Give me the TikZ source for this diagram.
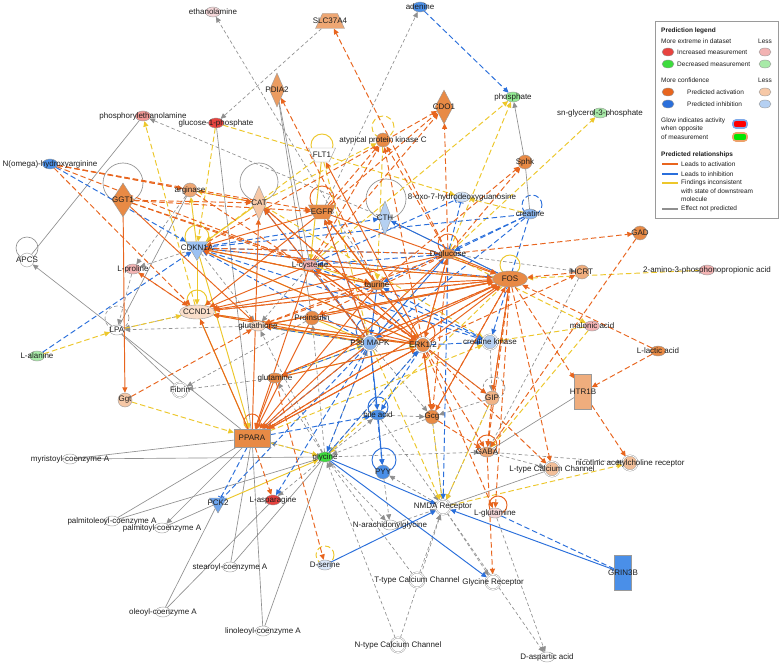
\documentclass[tikz,border=0pt]{standalone}
\usepackage{fontspec}
\setmainfont{Liberation Sans}
\usetikzlibrary{shapes.geometric,arrows.meta}
\definecolor{mred}{HTML}{E8433F}
\definecolor{mpink}{HTML}{F2B3B3}
\definecolor{mpinklt}{HTML}{F6D8DA}
\definecolor{mgreen}{HTML}{3DDC3D}
\definecolor{mgreenlt}{HTML}{A8EAA8}
\definecolor{porange}{HTML}{E88A45}
\definecolor{ppeach}{HTML}{F6C8A6}
\definecolor{pblue}{HTML}{4A8FE8}
\definecolor{pbluelt}{HTML}{B5D0F2}
\definecolor{actc}{HTML}{E8651E}
\definecolor{inhc}{HTML}{2A6FDB}
\definecolor{yelc}{HTML}{EDC72B}
\definecolor{npc}{HTML}{8F8F8F}
\definecolor{nodec}{HTML}{9A9A9A}
\definecolor{labc}{HTML}{1E1E1E}
\newcommand\labf{\fontsize{8}{9.6}\selectfont}
\newcommand\legf{\fontsize{6.5}{7.8}\selectfont}
\pgfdeclarelayer{edges}
\pgfsetlayers{edges,main}
\tikzset{
  base/.style={draw=nodec, line width=0.4pt, inner sep=0.5pt},
  chem/.style={base, ellipse, minimum width=15pt, minimum height=10pt},
  other/.style={base, circle, minimum size=14pt},
  cplx/.style={base, circle, minimum size=15pt, double=white, double distance=0.9pt},
  enzy/.style={base, diamond, minimum width=15pt, minimum height=34pt},
  trf/.style={base, ellipse, minimum width=35pt, minimum height=16pt},
  nrec/.style={base, rectangle, minimum width=36pt, minimum height=18pt},
  chan/.style={base, rectangle, minimum width=17pt, minimum height=35pt},
  tpt/.style={base, inner sep=2pt, trapezium, trapezium angle=65, minimum width=20pt, minimum height=15pt},
  tmr/.style={base, inner sep=2pt, trapezium, trapezium angle=65, shape border rotate=180, minimum width=20pt, minimum height=14pt},
  kin/.style={base, inner sep=1pt, regular polygon, regular polygon sides=3, shape border rotate=180, minimum size=20pt},
  every label/.style={font=\labf, text=labc, inner sep=0pt},
  arrowtip/.style={-{Triangle[length=5.5pt,width=5pt]}},
  inhbar/.style={-{Bar[width=6pt,line width=0.9pt]}},
  lnk/.style={line width=0.95pt},
  dsh/.style={dash pattern=on 5.5pt off 3pt},
  actl/.style={lnk, draw=actc},
  inhl/.style={lnk, draw=inhc},
  yell/.style={lnk, draw=yelc},
  npl/.style={line width=0.65pt, draw=npc},
  npdl/.style={npl, dash pattern=on 3.5pt off 2.5pt},
  act/.style={actl, arrowtip}, actd/.style={act, dsh},
  inh/.style={inhl, arrowtip}, inhd/.style={inh, dsh},
  yel/.style={yell, arrowtip}, yeld/.style={yel, dsh},
  np/.style={npl, arrowtip}, npd/.style={npdl, arrowtip},
  legtext/.style={anchor=west, font=\legf, text=labc, inner sep=0pt},
  legdot/.style={base, ellipse, minimum width=12pt, minimum height=8pt},
}
\begin{document}
\begin{tikzpicture}[x=1pt,y=-1pt]
\useasboundingbox (0,0) rectangle (779,663);

% molecules
\node[chem, fill=mpinklt, label={center:{ethanolamine}}] (eth) at (213,12) {};
\node[tpt, fill=porange!75!white, label={center:{SLC37A4}}] (slc) at (330,21) {};
\node[chem, fill=pblue, label={center:{adenine}}] (ade) at (420,7) {};
\node[chem, fill=mgreen!55!white, label={center:{phosphate}}] (phos) at (513,97) {};
\node[chem, fill=mgreenlt, label={center:{sn-glycerol-3-phosphate}}] (sng) at (600,113) {};
\node[enzy, fill=porange!85!white, label={center:{PDIA2}}] (pdia) at (277,90) {};
\node[enzy, fill=porange, minimum width=18pt, label={center:{CDO1}}] (cdo) at (444,107) {};
\node[chem, fill=mred!55!white, label={center:{phosphorylethanolamine}}] (pea) at (143,116) {};
\node[chem, fill=mred, label={center:{glucose-1-phosphate}}] (g1p) at (216,123) {};
\node[other, fill=porange, label={center:{atypical protein kinase C}}] (apkc) at (383,140) {};
\node[tmr, fill=white, label={center:{FLT1}}] (flt) at (322,155) {};
\node[other, fill=porange, label={center:{Sphk}}] (sphk) at (525,162) {};
\node[chem, fill=pblue, label={center:{N(omega)-hydroxyarginine}}] (noh) at (50,164) {};
\node[enzy, fill=porange, minimum width=22pt, label={center:{GGT1}}] (ggt1) at (123,200) {};
\node[other, fill=porange!75!white, label={center:{arginase}}] (arg) at (190,190) {};
\node[enzy, fill=ppeach, label={center:{CAT}}] (cat) at (259,203) {};
\node[tmr, fill=porange, label={center:{EGFR}}] (egfr) at (322,212) {};
\node[enzy, fill=pbluelt, minimum width=13pt, label={center:{CTH}}] (cth) at (385,218) {};
\node[chem, fill=pbluelt!60!white, label={center:{8-oxo-7-hydrodeoxyguanosine}}] (oxo) at (462,197) {};
\node[chem, fill=pblue!65!white, label={center:{creatine}}] (crt) at (530,214) {};
\node[kin, fill=pblue!55!white, minimum size=25pt, label={center:{CDKN1A}}] (cdkn) at (197,248) {};
\node[chem, fill=mpink, label={center:{L-cysteine}}] (lcys) at (310,265) {};
\node[chem, fill=porange, label={center:{D-glucose}}] (dglc) at (448,254) {};
\node[trf, fill=porange, label={center:{FOS}}] (fos) at (510,279) {};
\node[other, fill=porange, label={center:{GAD}}] (gad) at (640,233) {};
\node[other, fill=porange!70!white, label={center:{HCRT}}] (hcrt) at (582,272) {};
\node[chem, fill=mpink, label={center:{2-amino-3-phosphonopropionic acid}}] (amino) at (707,270) {};
\node[other, fill=white, label={center:{APCS}}] (apcs) at (27,260) {};
\node[chem, fill=mpink, label={center:{L-proline}}] (lpro) at (133,269) {};
\node[chem, fill=porange, label={center:{taurine}}] (tau) at (377,285) {};
\node[trf, fill=ppeach!60!white, minimum height=14pt, label={center:{CCND1}}] (ccnd) at (197,312) {};
\node[chem, fill=white, label={center:{LPA}}] (lpa) at (117,330) {};
\node[chem, fill=mgreenlt, label={center:{L-alanine}}] (lala) at (37,356) {};
\node[chem, fill=ppeach!60!white, label={center:{glutathione}}] (glut) at (258,326) {};
\node[other, fill=porange, label={center:{Proinsulin}}] (proi) at (312,318) {};
\node[cplx, fill=pblue!65!white, label={center:{P38 MAPK}}] (p38) at (370,343) {};
\node[cplx, fill=porange, label={center:{ERK1/2}}] (erk) at (423,345) {};
\node[cplx, fill=pbluelt, label={center:{creatine kinase}}] (ck) at (490,342) {};
\node[chem, fill=mpink, label={center:{malonic acid}}] (malo) at (592,326) {};
\node[chem, fill=porange, label={center:{L-lactic acid}}] (llac) at (658,351) {};
\node[cplx, fill=white, label={center:{Fibrin}}] (fib) at (180,390) {};
\node[other, fill=ppeach, label={center:{Ggt}}] (ggt) at (125,400) {};
\node[chem, fill=porange, label={center:{glutamine}}] (gln) at (275,378) {};
\node[other, fill=porange!65!white, label={center:{GIP}}] (gip) at (492,398) {};
\node[chem, fill=pblue, label={center:{bile acid}}] (bile) at (378,415) {};
\node[other, fill=porange, label={center:{Gcg}}] (gcg) at (432,417) {};
\node[chan, fill=porange!70!white, label={center:{HTR1B}}] (htr) at (583,392) {};
\node[nrec, fill=porange, label={center:{PPARA}}] (ppara) at (252,438) {};
\node[chem, fill=porange!75!white, label={center:{GABA}}] (gaba) at (487,452) {};
\node[cplx, fill=porange!55!white, label={center:{L-type Calcium Channel}}] (ltype) at (552,469) {};
\node[cplx, fill=porange!55!white, label={center:{nicotinic acetylcholine receptor}}] (nach) at (630,463) {};
\node[chem, fill=mgreen, label={center:{glycine}}] (gly) at (325,457) {};
\node[other, fill=pblue, label={center:{PYY}}] (pyy) at (383,472) {};
\node[chem, fill=white, label={center:{myristoyl-coenzyme A}}] (myr) at (70,459) {};
\node[kin, fill=pblue!80!white, label={center:{PCK2}}] (pck) at (218,503) {};
\node[chem, fill=mred, label={center:{L-asparagine}}] (lasn) at (273,500) {};
\node[cplx, fill=white, label={center:{NMDA Receptor}}] (nmda) at (443,507) {};
\node[chem, fill=mpinklt, label={center:{L-glutamine}}] (lglu) at (495,513) {};
\node[chem, fill=white, label={center:{N-arachidonylglycine}}] (narach) at (390,525) {};
\node[chem, fill=white, label={center:{palmitoleoyl-coenzyme A}}] (palo) at (112,521) {};
\node[chem, fill=white, label={center:{palmitoyl-coenzyme A}}] (palm) at (162,528) {};
\node[chem, fill=pbluelt!50!white, label={center:{D-serine}}] (dser) at (325,565) {};
\node[chem, fill=white, label={center:{stearoyl-coenzyme A}}] (stea) at (230,567) {};
\node[cplx, fill=white, label={center:{T-type Calcium Channel}}] (ttype) at (417,580) {};
\node[cplx, fill=white, label={center:{Glycine Receptor}}] (glyr) at (493,582) {};
\node[chan, fill=pblue, label={center:{GRIN3B}}] (grin) at (623,573) {};
\node[chem, fill=white, label={center:{oleoyl-coenzyme A}}] (ole) at (163,612) {};
\node[chem, fill=white, label={center:{linoleoyl-coenzyme A}}] (lino) at (263,631) {};
\node[cplx, fill=white, label={center:{N-type Calcium Channel}}] (ntype) at (398,645) {};
\node[chem, fill=white, label={center:{D-aspartic acid}}] (dasp) at (547,657) {};

\begin{pgfonlayer}{edges}
\fill[white] (0,0) rectangle (779,663);

% self loops
\draw[npl] ([yshift=17pt]ggt1.center) circle (20pt);
\draw[npl] ([yshift=21pt]cat.center) circle (19pt);
\draw[npl] ([xshift=1pt,yshift=19pt]cth.center) circle (20pt);
\draw[npl] ([yshift=12pt]apcs.center) circle (11pt);
\draw[npdl] ([yshift=12pt]lpa.center) circle (12pt);
\draw[npdl] ([xshift=2pt,yshift=10pt]gip.center) circle (11pt);
\draw[actl] ([yshift=14pt]egfr.center) circle (12pt);
\draw[actl] ([yshift=10pt]dglc.center) circle (10pt);
\draw[actl] ([yshift=12pt]erk.center) circle (12pt);
\draw[actl] ([yshift=7pt]gaba.center) circle (10pt);
\draw[actl] ([xshift=3pt,yshift=8pt]lglu.center) circle (9pt);
\draw[actl] ([yshift=16pt]ppara.center) circle (8pt);
\draw[yell] ([yshift=10pt]flt.center) circle (11pt);
\draw[yell, dsh] ([yshift=13pt]apkc.center) circle (11pt);
\draw[yell] ([yshift=11pt]cdkn.center) circle (12pt);
\draw[yell] ([yshift=12pt]ccnd.center) circle (10pt);
\draw[yell] ([yshift=14pt]fos.center) circle (10pt);
\draw[yell, dsh] ([yshift=10pt]dser.center) circle (9pt);
\draw[inhl, dsh] ([xshift=2pt,yshift=9pt]crt.center) circle (10pt);
\draw[inhl] ([xshift=-2pt,yshift=13pt]p38.center) circle (12pt);
\draw[inhl] ([yshift=8pt]bile.center) circle (10pt);
\draw[inhl] ([xshift=1pt,yshift=12pt]pyy.center) circle (12pt);

% not predicted
\draw[npl] (ppara) -- (g1p);
\draw[npl] (apcs) -- (pea);
\draw[np] (lpa) -- (apcs);
\draw[npl] (lpa) -- (fib);
\draw[npl] (lpa) -- (ppara);
\draw[npl] (myr) -- (ppara);
\draw[npl] (myr) -- (gly);
\draw[npl] (palo) -- (ppara);
\draw[npl] (palo) -- (gly);
\draw[np] (ppara) -- (palm);
\draw[npl] (palm) -- (pck);
\draw[npl] (stea) -- (ppara);
\draw[npl] (stea) -- (gly);
\draw[npl] (ole) -- (pck);
\draw[npl] (ole) -- (lasn);
\draw[npl] (lino) -- (ppara);
\draw[npl] (lino) -- (gly);
\draw[np] (sphk) -- (phos);
\draw[npl] (sphk) -- (crt);
\draw[npl] (pdia) -- (lcys);
\draw[npl] (pdia) -- (proi);
\draw[npl] (htr) -- (gaba);
\draw[npl] (ltype) -- (nmda);
\draw[npl] (arg) -- (lpa);
\draw[npl] (cth) -- (fos);
\draw[npd] (tau) -- (eth);
\draw[npd] (slc) -- (g1p);
\draw[npd] (cth) -- (pea);
\draw[npd] (egfr) -- (ade);
\draw[npd] (lpro) -- (lpa);
\draw[npd] (cdkn) -- (lpro);
\draw[npd] (arg) -- (lpro);
\draw[npd] (glut) -- (lpa);
\draw[npd] (ccnd) -- (lpa);
\draw[npd] (gln) -- (fib);
\draw[npd] (proi) -- (fib);
\draw[npd] (gly) -- (narach);
\draw[npd] (ttype) -- (nmda);
\draw[npd] (ntype) -- (nmda);
\draw[npd] (ttype) -- (gly);
\draw[npd] (ntype) -- (gly);
\draw[npd] (nmda) -- (pyy);
\draw[npd] (lglu) -- (dasp);
\draw[npd] (nmda) -- (dasp);
\draw[npd] (gaba) -- (ltype);
\draw[npd] (gaba) -- (nach);
\draw[npd] (dglc) -- (hcrt);
\draw[npd] (hcrt) -- (gaba);
\draw[npd] (nmda) -- (glyr);
\draw[npd] (gly) -- (gaba);
\draw[npd] (gcg) -- (gly);
\draw[npd] (gcg) -- (nmda);
\draw[npd] (p38) -- (gcg);
\draw[npd] (erk) -- (gcg);
\draw[npd] (gly) -- (ppara);
\draw[npd] (gly) -- (gln);
\draw[npd] (gly) -- (p38);
\draw[npd] (narach) -- (nmda);
\draw[npd] (pyy) -- (narach);
\draw[npd] (cdkn) -- (glut);
\draw[npd] (lcys) -- (glut);
\draw[npd] (gly) -- (bile);
\draw[npd] (gip) -- (nmda);
\draw[npd] (ck) -- (gip);
\draw[npd] (erk) -- (gip);
\draw[npd] (gly) -- (lasn);
\draw[npd] (bile) -- (nmda);
\draw[npd] (gly) -- (erk);
\draw[npd] (gly) -- (proi);
\draw[npd] (gly) -- (glut);
\draw[npd] (bile) -- (gcg);
\draw[npd] (gip) -- (gcg);

% inconsistent
\draw[yeld] (ccnd) -- (pea);
\draw[yeld] (g1p) -- (oxo);
\draw[yeld] (lala) -- (lpa);
\draw[yeld] (lpa) -- (ccnd);
\draw[yeld] (ggt) -- (ppara);
\draw[yeld] (dglc) -- (sng);
\draw[yeld] (dglc) -- (phos);
\draw[yeld] (lcys) -- (phos);
\draw[yeld] (crt) -- (oxo);
\draw[yeld] (amino) -- (fos);
\draw[yeld] (malo) -- (ck);
\draw[yeld] (malo) -- (gaba);
\draw[yeld] (nmda) -- (nach);
\draw[yeld] (dglc) -- (malo);
\draw[yeld] (cat) -- (apkc);
\draw[yeld] (cat) -- (arg);
\draw[yeld] (ppara) -- (gly);
\draw[yeld] (erk) -- (nmda);
\draw[yeld] (p38) -- (nmda);
\draw[yeld] (glut) -- (erk);
\draw[yeld] (gln) -- (erk);
\draw[yeld] (gip) -- (nmda);
\draw[yeld] (fos) -- (lcys);
\draw[yeld] (ccnd) -- (erk);
\draw[yeld] (flt) -- (cdkn);
\draw[yeld] (ppara) -- (ck);
\draw[yeld] (glut) -- (fos);
\draw[yeld] (gln) -- (p38);
\draw[yeld] (p38) -- (ccnd);
\draw[yeld] (fos) -- (gly);
\draw[yeld] (apkc) -- (tau);
\draw[yeld] (g1p) -- (cdkn);
\draw[yeld] (cat) -- (ck);
\draw[yeld] (flt) -- (p38);
\draw[yel] (cdkn) -- (arg);
\draw[yel] (glut) -- (p38);
\draw[yel] (flt) -- (lcys);
\draw[yel] (pck) -- (gly);
\draw[yel] (cdkn) -- (ccnd);
\draw[yel] (cdkn) -- (ppara);
\draw[yel] (cdkn) -- (erk);
\draw[yel] (egfr) -- (erk);
\draw[yel] (cat) -- (cdkn);
\draw[yel] (ccnd) -- (ppara);
\draw[yel] (lcys) -- (tau);
\draw[yel] (cdkn) -- (tau);
\draw[yel] (proi) -- (p38);

% inhibition
\draw[inhd] (ade) -- (phos);
\draw[inhd] (noh) -- (cdkn);
\draw[inhd] (lala) -- (cdkn);
\draw[inhd, inhbar] (ppara) -- (pck);
\draw[inhd, inhbar] (p38) -- (pck);
\draw[inhd, inhbar] (lglu) -- (grin);
\draw[inhd, inhbar] (lcys) -- (oxo);
\draw[inhd, inhbar] (dglc) -- (oxo);
\draw[inhd] (crt) -- (dglc);
\draw[inhd] (crt) -- (tau);
\draw[inhd] (crt) -- (ck);
\draw[inhd] (erk) -- (ck);
\draw[inhd] (dglc) -- (nmda);
\draw[inhd] (cdkn) -- (dglc);
\draw[inhd] (cdkn) -- (fos);
\draw[inhd] (cdkn) -- (cth);
\draw[inhd] (cdkn) -- (ck);
\draw[inhd] (p38) -- (cdkn);
\draw[inhd] (p38) -- (lcys);
\draw[inhd] (p38) -- (gln);
\draw[inhd] (p38) -- (ppara);
\draw[inhd] (p38) -- (gly);
\draw[inhd] (ppara) -- (bile);
\draw[inhd] (p38) -- (glut);
\draw[inhd] (p38) -- (pyy);
\draw[inhd] (dglc) -- (lcys);
\draw[inhd] (crt) -- (p38);
\draw[inhd] (p38) -- (egfr);
\draw[inhd] (p38) -- (cat);
\draw[inhd] (ck) -- (tau);
\draw[inhd] (crt) -- (cdkn);
\draw[inhd] (p38) -- (lasn);
\draw[inhd] (erk) -- (bile);
\draw[inhd] (lcys) -- (ck);
\draw[inhd] (gly) -- (erk);
\draw[inh] (gly) -- (nmda);
\draw[inh] (gly) -- (glyr);
\draw[inh] (dser) -- (nmda);
\draw[inh] (grin) -- (nmda);
\draw[inh] (tau) -- (p38);
\draw[inh] (p38) -- (bile);
\draw[inh] (fos) -- (cth);
\draw[inh] (bile) -- (pyy);
\draw[inh] (p38) -- (dglc);

% activation
\draw[actd] (noh) -- (cat);
\draw[actd] (noh) -- (arg);
\draw[actd] (noh) -- (ccnd);
\draw[actd] (noh) -- (egfr);
\draw[actd] (ggt1) -- (cat);
\draw[actd] (ggt1) -- (lcys);
\draw[actd] (lpro) -- (ccnd);
\draw[actd] (ccnd) -- (lpro);
\draw[actd] (ggt) -- (glut);
\draw[actd] (ppara) -- (lasn);
\draw[actd] (gln) -- (dser);
\draw[actd] (gaba) -- (glyr);
\draw[actd] (fos) -- (ltype);
\draw[actd] (htr) -- (nach);
\draw[actd] (fos) -- (htr);
\draw[actd] (llac) -- (htr);
\draw[actd] (llac) -- (fos);
\draw[actd] (hcrt) -- (fos);
\draw[actd] (dglc) -- (gad);
\draw[actd] (gad) -- (gaba);
\draw[actd] (dglc) -- (sphk);
\draw[actd] (tau) -- (sphk);
\draw[actd] (dglc) -- (cdo);
\draw[actd] (cdkn) -- (cdo);
\draw[actd] (lcys) -- (cdo);
\draw[actd] (egfr) -- (cdo);
\draw[actd] (tau) -- (pdia);
\draw[actd] (dglc) -- (slc);
\draw[actd] (lcys) -- (apkc);
\draw[actd] (egfr) -- (apkc);
\draw[actd] (dglc) -- (apkc);
\draw[actd] (erk) -- (apkc);
\draw[actd] (erk) -- (hcrt);
\draw[actd] (fos) -- (gaba);
\draw[actd] (erk) -- (gaba);
\draw[actd] (erk) -- (ltype);
\draw[actd] (fos) -- (glut);
\draw[actd] (fos) -- (ppara);
\draw[actd] (dglc) -- (erk);
\draw[actd] (fos) -- (gcg);
\draw[actd] (fos) -- (gln);
\draw[actd] (tau) -- (glut);
\draw[actd] (dglc) -- (glut);
\draw[actd] (erk) -- (lglu);
\draw[actd] (gcg) -- (gaba);
\draw[actd] (gip) -- (gaba);
\draw[actd] (dglc) -- (proi);
\draw[actd] (fos) -- (ccnd);
\draw[actd] (dglc) -- (cdkn);
\draw[actd] (fos) -- (cdkn);
\draw[actd] (cdkn) -- (tau);
\draw[actd] (ggt1) -- (egfr);
\draw[actd] (arg) -- (erk);
\draw[actd] (noh) -- (lcys);
\draw[actd] (cat) -- (erk);
\draw[actd] (ggt1) -- (tau);
\draw[actd] (dglc) -- (gcg);
\draw[actd] (fos) -- (gip);
\draw[actd] (fos) -- (lglu);
\draw[act] (ggt1) -- (ggt);
\draw[act] (ggt1) -- (glut);
\draw[act] (erk) -- (fos);
\draw[act] (p38) -- (fos);
\draw[act] (dglc) -- (fos);
\draw[act] (tau) -- (fos);
\draw[act] (lcys) -- (fos);
\draw[act] (erk) -- (ccnd);
\draw[act] (erk) -- (cdkn);
\draw[act] (erk) -- (ppara);
\draw[act] (erk) -- (egfr);
\draw[act] (erk) -- (cat);
\draw[act] (erk) -- (flt);
\draw[act] (erk) -- (glut);
\draw[act] (erk) -- (lcys);
\draw[act] (erk) -- (gln);
\draw[act] (erk) -- (gcg);
\draw[act] (erk) -- (gip);
\draw[act] (erk) -- (dglc);
\draw[act] (erk) -- (tau);
\draw[act] (p38) -- (ppara);
\draw[act] (p38) -- (ccnd);
\draw[act] (p38) -- (cat);
\draw[act] (p38) -- (egfr);
\draw[act] (ppara) -- (ccnd);
\draw[act] (ppara) -- (cat);
\draw[act] (tau) -- (cdkn);
\draw[act] (tau) -- (ppara);
\draw[act] (proi) -- (erk);
\draw[act] (proi) -- (fos);
\draw[act] (glut) -- (fos);
\draw[act] (tau) -- (egfr);
\draw[act] (lcys) -- (ppara);
\draw[act] (gcg) -- (fos);
\draw[act] (gip) -- (fos);
\draw[act] (egfr) -- (ccnd);
\draw[act] (gln) -- (fos);
\draw[act] (tau) -- (ccnd);
\draw[act] (dglc) -- (ppara);
\draw[act] (dglc) -- (ccnd);
\draw[act] (egfr) -- (fos);
\draw[act] (lcys) -- (ccnd);
\draw[act] (proi) -- (ppara);
\draw[act] (gln) -- (ppara);
\draw[act] (gcg) -- (erk);
\draw[act] (ppara) -- (erk);
\draw[act] (lcys) -- (erk);
\draw[act] (egfr) -- (cdkn);
\draw[act] (ppara) -- (fos);
\draw[act] (ccnd) -- (fos);
\end{pgfonlayer}

% legend
\draw[draw=nodec, line width=0.5pt] (655,21) rectangle (778,218);
\node[legtext, font=\legf\bfseries] (lgHead) at (661,31) {Prediction legend};
\node[legtext] (lgExt) at (661,41) {More extreme in dataset};
\node[legtext, anchor=center] (lgLessA) at (765,41) {Less};
\node[legdot, fill=mred] (lgRed) at (668,52) {};
\node[legtext] (lgInc) at (677,52) {Increased measurement};
\node[legdot, fill=mpink] (lgPink) at (765,52) {};
\node[legdot, fill=mgreen] (lgGreen) at (668,64) {};
\node[legtext] (lgDec) at (677,64) {Decreased measurement};
\node[legdot, fill=mgreenlt] (lgGreenLt) at (765,64) {};
\node[legtext] (lgConf) at (661,80) {More confidence};
\node[legtext, anchor=center] (lgLessB) at (765,80) {Less};
\node[legdot, fill=actc] (lgOrange) at (668,92) {};
\node[legtext] (lgAct) at (687,92) {Predicted activation};
\node[legdot, fill=ppeach] (lgPeach) at (765,92) {};
\node[legdot, fill=inhc] (lgBlue) at (668,104) {};
\node[legtext] (lgInh) at (687,104) {Predicted inhibition};
\node[legdot, fill=pbluelt] (lgBlueLt) at (765,104) {};
\node[legtext] (lgGlowA) at (661,121) {Glow indicates activity};
\node[legtext] (lgGlowB) at (661,129) {when opposite};
\node[legtext] (lgGlowC) at (661,137) {of measurement};
\node[draw=inhc!60!white, line width=1.6pt, fill=red, rounded corners=3pt, minimum width=14pt, minimum height=8pt, inner sep=0pt] (lgGlowR) at (740,124) {};
\node[draw=porange!80!white, line width=1.6pt, fill=green!90!black, rounded corners=3pt, minimum width=14pt, minimum height=8pt, inner sep=0pt] (lgGlowG) at (740,137) {};
\node[legtext, font=\legf\bfseries] (lgRel) at (661,155) {Predicted relationships};
\coordinate (laA) at (662,164); \coordinate (laB) at (678,164);
\coordinate (lbA) at (662,174); \coordinate (lbB) at (678,174);
\coordinate (lcA) at (662,183); \coordinate (lcB) at (678,183);
\coordinate (ldA) at (662,209); \coordinate (ldB) at (678,209);
\draw[color=actc, line width=1.1pt] (laA) -- (laB);
\draw[color=inhc, line width=1.1pt] (lbA) -- (lbB);
\draw[color=yelc, line width=1.1pt] (lcA) -- (lcB);
\draw[color=npc, line width=1.1pt] (ldA) -- (ldB);
\node[legtext] (lgLa) at (681,164) {Leads to activation};
\node[legtext] (lgLb) at (681,174) {Leads to inhibition};
\node[legtext] (lgLc) at (681,183) {Findings inconsistent};
\node[legtext] (lgLd) at (681,191) {with state of downstream};
\node[legtext] (lgLe) at (681,199) {molecule};
\node[legtext] (lgLf) at (681,209) {Effect not predicted};
\end{tikzpicture}
\end{document}
